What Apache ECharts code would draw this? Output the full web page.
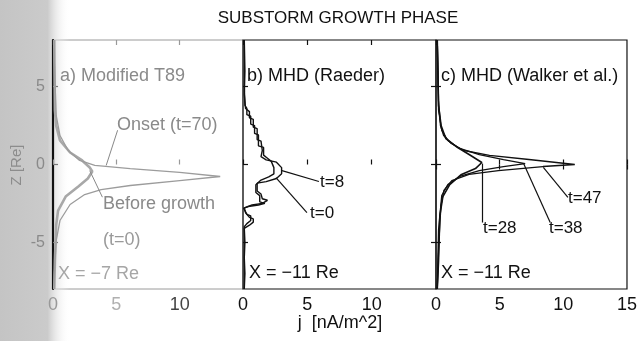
<!DOCTYPE html>
<html><head><meta charset="utf-8">
<script src="https://cdn.jsdelivr.net/npm/echarts@6/dist/echarts.min.js"></script>
<style>html,body{margin:0;padding:0;background:#fff}#c{width:640px;height:341px}</style>
</head><body><div id="c"></div>
<script>
// ---- data ----
const jTicks = [0, 5, 10, 15];
const zTicks = [-5, 0, 5];
// panel a: Modified T89, [j, z]
const t89Before = [[0.1,8],[0.12,6],[0.15,3.5],[0.25,2.5],[0.55,1.55],[1.35,0.77],[2.3,0.26],[2.9,-0.19],[3.1,-0.45],[2.75,-0.9],[2.0,-1.41],[1.0,-2.06],[0.4,-2.96],[0.25,-3.9],[0.15,-6.2],[0.1,-8]];
const t89Onset = [[0.1,8],[0.1,6.7],[0.25,3.15],[0.55,1.86],[1.2,0.9],[2.1,0.26],[3.3,-0.06],[6.1,-0.26],[10,-0.51],[13.2,-0.77],[10,-1.03],[6.1,-1.35],[3.8,-1.61],[2.5,-1.93],[1.35,-2.57],[0.55,-3.6],[0.25,-4.9],[0.1,-7.1],[0.1,-8]];
// panel b: MHD (Raeder)
const raederT8 = [[0.1,8],[0.15,6],[0.1,4.5],[0.2,3.6],[0.5,3.4],[0.5,3.0],[0.8,2.9],[0.8,2.4],[1.1,2.3],[1.1,1.6],[1.4,1.5],[1.5,0.9],[1.4,0.5],[1.8,0.3],[2.6,0.15],[3.0,-0.2],[3.0,-0.6],[2.6,-0.9],[1.8,-1.1],[1.1,-1.2],[1.1,-1.7],[1.4,-1.9],[1.5,-2.2],[1.9,-2.3],[1.5,-2.5],[0.7,-2.6],[0.1,-2.8],[0.2,-3.1],[0.5,-3.4],[0.8,-3.5],[0.8,-3.7],[0.5,-3.9],[0.1,-4.1],[0.15,-5],[0.1,-6],[0.15,-7],[0.1,-8]];
const raederT0 = [[0.1,8],[0.1,5],[0.15,3.8],[0.3,3.6],[0.3,3.2],[0.6,3.1],[0.6,2.6],[0.9,2.5],[0.9,2.0],[1.2,1.9],[1.2,1.2],[1.6,1.1],[1.6,0.6],[1.9,0.4],[2.2,0.2],[2.4,-0.2],[2.4,-0.6],[2.0,-0.8],[1.4,-1.0],[1.0,-1.3],[1.0,-1.8],[1.3,-2.0],[1.3,-2.4],[1.7,-2.5],[1.2,-2.6],[0.4,-2.7],[0.05,-2.8],[0.3,-3.2],[0.6,-3.3],[0.6,-3.6],[0.3,-3.8],[0.1,-4.0],[0.1,-8]];
// panel c: MHD (Walker et al.)
const walkerT28 = [[0.1,8],[0.15,6],[0.2,3.8],[0.4,2.5],[0.77,1.67],[1.7,1.09],[2.6,0.64],[3.6,0.13],[3.1,-0.26],[2.0,-0.64],[1.08,-1.29],[0.54,-2.06],[0.3,-3.28],[0.2,-6.2],[0.1,-8]];
const walkerT38 = [[0.1,8],[0.15,6],[0.2,3.5],[0.45,2.2],[0.93,1.54],[1.86,1.03],[3.4,0.64],[5.3,0.32],[7.0,0.06],[5.3,-0.13],[3.4,-0.39],[1.86,-0.77],[0.93,-1.29],[0.45,-1.99],[0.2,-4.2],[0.15,-6],[0.1,-8]];
const walkerT47 = [[0.1,8],[0.15,6],[0.2,4.1],[0.35,2.5],[0.6,1.86],[1.2,1.35],[2.2,0.9],[4.2,0.58],[7.3,0.32],[10.9,0],[8.4,-0.13],[4.9,-0.39],[2.6,-0.64],[1.24,-1.03],[0.62,-1.67],[0.39,-2.64],[0.23,-4.9],[0.1,-8]];
// leader lines [from, to] in data units
const leadersA = [[[5.1,2.2],[4.2,-0.06]],[[3.9,-2.1],[2.9,-0.39]]];
const leadersB = [[[3.03,-0.39],[5.9,-1.09]],[[2.56,-0.84],[4.97,-3.09]]];
const leadersC = [[[3.63,0.06],[3.63,-3.73]],[[6.88,0.06],[8.97,-3.73]],[[8.43,-0.19],[10.36,-2.12]]];

const FONT = '"Liberation Sans", Arial, Helvetica, sans-serif';
const chart = echarts.init(document.getElementById('c'), null, {renderer:'canvas'});

const grids = [
  {left:53, top:40, width:190, height:249, show:true, borderColor:'#9a9a9a', borderWidth:1, backgroundColor:'transparent'},
  {left:243, top:40, width:193, height:249, show:true, borderColor:'#111', borderWidth:1.2},
  {left:436, top:40, width:194, height:249, show:true, borderColor:'#111', borderWidth:1.2}
];
function xBottom(g, showMax, colorFn){
  return {type:'value', gridIndex:g, min:jTicks[0], max:jTicks[jTicks.length-1], interval:5, position:'bottom',
    axisLine:{show:false}, splitLine:{show:false},
    axisTick:{show:true, inside:true, length:5, lineStyle:{color: g===0?'#999':'#111', width:1.2}},
    axisLabel:{show:true, showMaxLabel:showMax, margin:7, fontSize:18, fontFamily:FONT, color: colorFn || '#111'}};
}
function xTop(g){
  return {type:'value', gridIndex:g, min:0, max:15, interval:5, position:'top',
    axisLine:{show:false}, splitLine:{show:false},
    axisTick:{show:true, inside:true, length:5, lineStyle:{color: g===0?'#999':'#111', width:1.2}},
    axisLabel:{show:false}};
}
function yAx(g, pos, showLabel, lineShow){
  return {type:'value', gridIndex:g, min:-8, max:8, position:pos,
    axisLine:{show:lineShow, lineStyle:{color:'#111', width:2.2}}, splitLine:{show:false},
    axisTick:{show:true, inside:true, length:5, customValues:zTicks, lineStyle:{color:g===0?'#777':'#111', width:1.2}},
    axisLabel:{show:showLabel, customValues:zTicks, margin:8, fontSize:16, fontFamily:FONT, color:'#8a8a8a'}};
}
const aLabelColor = function(v){ v = Number(v); return v===10 ? '#444' : (v===5 ? '#b0b0b0' : '#999'); };

function leaderLines(list, color, w){
  return {silent:true, symbol:['none','none'], animation:false, label:{show:false},
    lineStyle:{color:color, width:w, type:'solid'},
    emphasis:{disabled:true},
    data:list.map(p=>[{coord:p[0]},{coord:p[1]}])};
}
function ser(data, xi, yi, color, w, ml){
  const s = {type:'line', data:data, xAxisIndex:xi, yAxisIndex:yi, showSymbol:false, symbol:'none',
    lineStyle:{color:color, width:w}, silent:true, animation:false, z:3};
  if (ml) s.markLine = ml;
  return s;
}

function txt(x, y, s, size, color, extra){
  return Object.assign({type:'text', x:x, y:y, z:10, style:{text:s, fontSize:size, fontFamily:FONT, fill:color, verticalAlign:'middle', align:'left'}}, extra||{});
}

const option = {
  backgroundColor:'#fff',
  animation:false,
  grid: grids,
  xAxis: [xBottom(0,false,aLabelColor), xTop(0), xBottom(1,false), xTop(1), xBottom(2,true), xTop(2)],
  yAxis: [yAx(0,'left',true,true), yAx(1,'left',false,false), yAx(2,'left',false,false), yAx(2,'right',false,false)],
  series: [
    ser(t89Before, 0, 0, '#a8a8a8', 2.6, leaderLines(leadersA, '#888', 1)),
    ser(t89Onset, 0, 0, '#9c9c9c', 1.3),
    ser(raederT8, 2, 1, '#111', 1.4, leaderLines(leadersB, '#111', 1.2)),
    ser(raederT0, 2, 1, '#111', 1.4),
    ser(walkerT28, 4, 2, '#111', 1.6, leaderLines(leadersC, '#111', 1.2)),
    ser(walkerT38, 4, 2, '#111', 1.3),
    ser(walkerT47, 4, 2, '#111', 1.3)
  ],
  graphic: [
    {type:'rect', z:0, shape:{x:0, y:0, width:70, height:341},
      style:{fill:new echarts.graphic.LinearGradient(0,0,1,0,[{offset:0,color:'#c4c4c4'},{offset:0.68,color:'#cbcbcb'},{offset:1,color:'rgba(255,255,255,0)'}])}},
    txt(338, 18, 'SUBSTORM GROWTH PHASE', 17, '#111', {style:{text:'SUBSTORM GROWTH PHASE', fontSize:17, fontFamily:FONT, fill:'#111', align:'center', verticalAlign:'middle'}}),
    {type:'text', x:340, y:323, z:10, style:{text:'j  [nA/m^2]', fontSize:18, fontFamily:FONT, fill:'#111', align:'center', verticalAlign:'middle'}},
    {type:'text', x:17, y:165, z:10, rotation:Math.PI/2, style:{text:'Z [Re]', fontSize:15, fontFamily:FONT, fill:'#8c8c8c', align:'center', verticalAlign:'middle'}},
    txt(60, 76, 'a) Modified T89', 18, '#8a8a8a'),
    txt(117, 125, 'Onset (t=70)', 18, '#8a8a8a'),
    txt(103, 204, 'Before growth', 18, '#8a8a8a'),
    txt(103, 240, '(t=0)', 18, '#9a9a9a'),
    txt(58, 274, 'X = −7 Re', 18, '#a6a6a6'),
    txt(247, 76, 'b) MHD (Raeder)', 18, '#111'),
    txt(320, 182, 't=8', 17, '#111'),
    txt(310, 213, 't=0', 17, '#111'),
    txt(249, 273, 'X = −11 Re', 18, '#111'),
    txt(441, 76, 'c) MHD (Walker et al.)', 18, '#111'),
    txt(568, 198, 't=47', 17, '#111'),
    txt(483, 228, 't=28', 17, '#111'),
    txt(549, 228, 't=38', 17, '#111'),
    txt(441, 273, 'X = −11 Re', 18, '#111')
  ]
};
chart.setOption(option);
</script></body></html>
